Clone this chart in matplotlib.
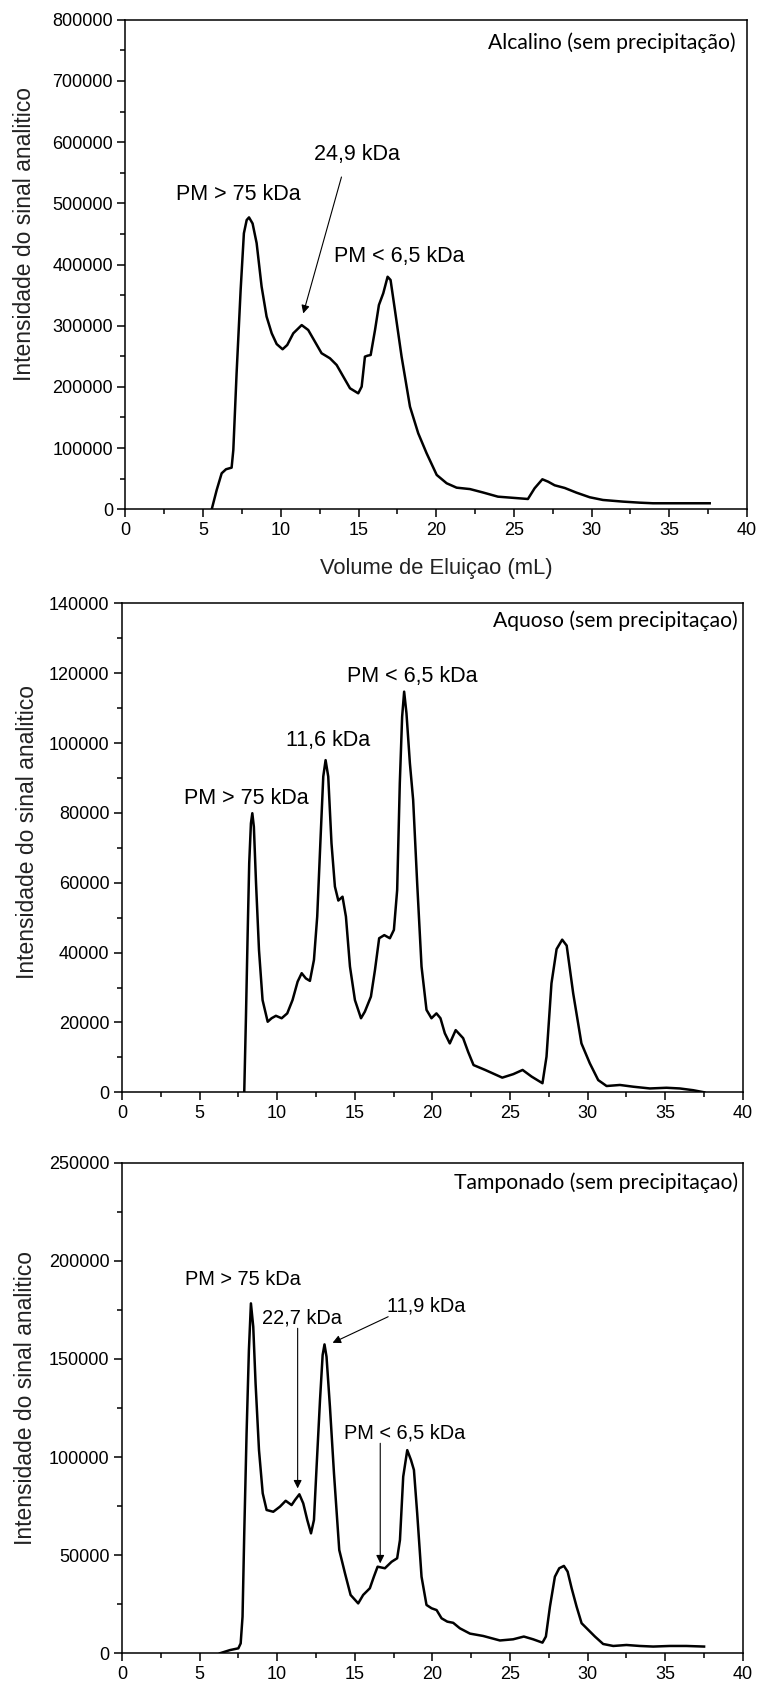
import matplotlib
matplotlib.use("Agg")
import matplotlib.pyplot as plt
from matplotlib.ticker import MultipleLocator

plt.rcParams['font.family'] = ['Liberation Sans', 'DejaVu Sans']

# Alcalino (sem precipitação)
alc_x = [5.55, 5.87, 6.19, 6.47, 6.83, 6.94, 7.15, 7.41, 7.62, 7.8, 7.95, 8.18, 8.44, 8.76,
         9.08, 9.41, 9.73, 10.11, 10.41, 10.8, 11.34, 11.76, 12.19, 12.62, 13.16, 13.59,
         14.02, 14.45, 14.98, 15.2, 15.41, 15.58, 15.78, 16.06, 16.31, 16.59, 16.87, 17.06,
         17.34, 17.77, 18.31, 18.84, 19.38, 20.03, 20.67, 21.31, 22.17, 23.0, 23.97, 25.04,
         25.9, 26.33, 26.83, 27.2, 27.62, 28.27, 29.02, 29.88, 30.73, 32.02, 33.09, 33.95,
         35.24, 37.6]
alc_y = [0, 31500, 58800, 65400, 68000, 96900, 222000, 358000, 451000, 472700, 477000,
         467000, 435000, 364000, 315000, 287600, 270000, 261500, 268500, 287600, 301000,
         293000, 274000, 255000, 246700, 235800, 216700, 197700, 189500, 200400, 249400,
         251000, 252100, 293000, 333800, 353000, 380000, 374700, 325700, 249400, 167700,
         124200, 91500, 56100, 42500, 35300, 33000, 27500, 20600, 18500, 16800, 34300,
         49000, 45100, 39200, 34800, 27200, 19600, 15200, 12500, 10800, 9800, 9800, 9800]

# Aquoso (sem precipitaçao)
aq_x = [7.88, 7.99, 8.1, 8.2, 8.31, 8.4, 8.5, 8.64, 8.83, 9.06, 9.39, 9.64, 9.92, 10.29,
        10.65, 10.99, 11.32, 11.58, 11.85, 12.11, 12.37, 12.58, 12.8, 12.97, 13.12, 13.29,
        13.5, 13.72, 13.94, 14.21, 14.43, 14.69, 15.01, 15.4, 15.65, 16.04, 16.3, 16.57,
        16.9, 17.26, 17.52, 17.73, 17.9, 18.05, 18.18, 18.33, 18.55, 18.76, 19.02, 19.3,
        19.62, 19.94, 20.26, 20.52, 20.8, 21.12, 21.5, 21.98, 22.3, 22.65, 23.4, 24.5,
        25.21, 25.81, 26.39, 27.09, 27.35, 27.67, 28.0, 28.36, 28.65, 29.07, 29.6, 30.14,
        30.68, 31.22, 32.08, 32.94, 34.01, 35.08, 35.94, 36.8, 37.51]
aq_y = [0, 21600, 45500, 65600, 77000, 79900, 76000, 59800, 40700, 26400, 20200, 21200,
        21900, 21200, 22600, 26400, 31700, 34100, 32600, 31900, 37900, 50300, 73200, 90400,
        95100, 90400, 71300, 58900, 54900, 56000, 50300, 36000, 26400, 21200, 23100, 27400,
        35000, 44100, 45000, 44100, 46500, 57900, 88500, 107500, 114700, 108500, 94200,
        83700, 59800, 36000, 23600, 21200, 22600, 21200, 16900, 14000, 17800, 15500, 11600,
        7800, 6400, 4200, 5200, 6400, 4500, 2600, 10200, 31200, 41000, 43700, 42000, 28300,
        14000, 8300, 3500, 1800, 2100, 1600, 1100, 1300, 1100, 600, 0]

# Tamponado (sem precipitaçao)
tp_x = [6.32, 6.96, 7.5, 7.65, 7.77, 7.88, 8.03, 8.18, 8.31, 8.46, 8.61, 8.83, 9.07, 9.32,
        9.75, 10.18, 10.55, 10.93, 11.15, 11.43, 11.68, 11.94, 12.18, 12.37, 12.54, 12.76,
        12.93, 13.05, 13.18, 13.4, 13.66, 14.0, 14.37, 14.73, 15.22, 15.54, 15.97, 16.23,
        16.47, 16.94, 17.37, 17.73, 17.91, 18.12, 18.38, 18.62, 18.81, 19.02, 19.3, 19.62,
        19.95, 20.27, 20.59, 20.96, 21.34, 21.77, 22.42, 23.27, 24.35, 25.2, 25.89, 26.49,
        27.09, 27.31, 27.57, 27.89, 28.17, 28.47, 28.71, 28.97, 29.29, 29.61, 30.04, 30.47,
        31.0, 31.65, 32.5, 33.36, 34.22, 35.29, 36.36, 37.5]
tp_y = [0, 1600, 2500, 5000, 18600, 61100, 112000, 154500, 178300, 166400, 137500, 103500,
        81500, 73000, 72100, 74700, 77700, 75500, 78100, 81000, 76400, 67900, 61100, 67900,
        95000, 129000, 152000, 157400, 151100, 125600, 91700, 52600, 40700, 29700, 25400,
        29700, 33100, 39000, 44100, 43300, 46600, 48400, 57700, 90000, 103500, 98500, 93400,
        71300, 39000, 24600, 22900, 22000, 17800, 16100, 15500, 12700, 10000, 8800, 6500,
        7100, 8500, 7100, 5400, 8500, 23700, 39000, 43300, 44500, 41600, 33100, 23700,
        15300, 11900, 8500, 4700, 3700, 4200, 3700, 3400, 3700, 3700, 3400]

titles = ['Alcalino (sem precipitação)', 'Aquoso (sem precipitaçao)',
          'Tamponado (sem precipitaçao)']
ymaxes = [800000, 140000, 250000]
ysteps = [100000, 20000, 50000]

fig = plt.figure(figsize=(7.61, 16.88), dpi=100)
rects = [[0.1649, 0.6983, 0.8167, 0.2900],
         [0.1602, 0.3529, 0.8160, 0.2897],
         [0.1602, 0.0206, 0.8160, 0.2906]]
title_pos = [(0.981, 0.953), (0.992, 0.964), (0.992, 0.959)]
ylabel_pos = [(0.0326, 0.8611), (0.0355, 0.5074), (0.0340, 0.1716)]
series = [(alc_x, alc_y), (aq_x, aq_y), (tp_x, tp_y)]
axes = []
for i in range(3):
    ax = fig.add_axes(rects[i])
    x, y = series[i]
    ax.plot(x, y, color='black', lw=1.8, solid_joinstyle='round')
    ax.set_xlim(0, 40)
    ax.set_ylim(0, ymaxes[i])
    ax.xaxis.set_major_locator(MultipleLocator(5))
    ax.xaxis.set_minor_locator(MultipleLocator(2.5))
    ax.yaxis.set_major_locator(MultipleLocator(ysteps[i]))
    ax.yaxis.set_minor_locator(MultipleLocator(ysteps[i] / 2))
    ax.tick_params(which='major', direction='out', length=6, width=1.1, labelsize=13, pad=3)
    ax.tick_params(which='minor', direction='out', length=3.5, width=1.1)
    for s in ax.spines.values():
        s.set_linewidth(1.1)
    fig.text(ylabel_pos[i][0], ylabel_pos[i][1], 'Intensidade do sinal analitico',
             rotation=90, ha='center', va='center', fontsize=16.5, color='#222222')
    ax.text(title_pos[i][0], title_pos[i][1], titles[i], transform=ax.transAxes,
            ha='right', va='center', fontsize=15.2, family=['Lato', 'DejaVu Sans'])
    axes.append(ax)

axes[0].set_xlabel('Volume de Eluiçao (mL)', fontsize=15.8, labelpad=14, color='#222222')

arrow = dict(arrowstyle='-|>', color='black', lw=0.8, mutation_scale=12, shrinkA=0, shrinkB=0)
fs = 15.5
fs3 = 14.4

a = axes[0]
a.text(7.25, 515000, 'PM > 75 kDa', ha='center', va='center', fontsize=fs)
a.text(14.9, 579000, '24,9 kDa', ha='center', va='center', fontsize=fs)
a.annotate('', xy=(11.44, 320000), xytext=(13.9, 543000), arrowprops=arrow)
a.text(17.65, 413000, 'PM < 6,5 kDa', ha='center', va='center', fontsize=fs)

a = axes[1]
a.text(8.04, 84200, 'PM > 75 kDa', ha='center', va='center', fontsize=fs)
a.text(13.25, 100700, '11,6 kDa', ha='center', va='center', fontsize=fs)
a.text(18.69, 119000, 'PM < 6,5 kDa', ha='center', va='center', fontsize=fs)

a = axes[2]
a.text(7.78, 190300, 'PM > 75 kDa', ha='center', va='center', fontsize=fs3)
a.text(11.63, 170700, '22,7 kDa', ha='center', va='center', fontsize=fs3)
a.annotate('', xy=(11.32, 84000), xytext=(11.32, 165600), arrowprops=arrow)
a.text(19.62, 177000, '11,9 kDa', ha='center', va='center', fontsize=fs3)
a.annotate('', xy=(13.57, 158200), xytext=(17.15, 171500), arrowprops=arrow)
a.text(18.23, 112000, 'PM < 6,5 kDa', ha='center', va='center', fontsize=fs3)
a.annotate('', xy=(16.64, 45800), xytext=(16.64, 107000), arrowprops=arrow)

fig.savefig('out.png', dpi=100)
